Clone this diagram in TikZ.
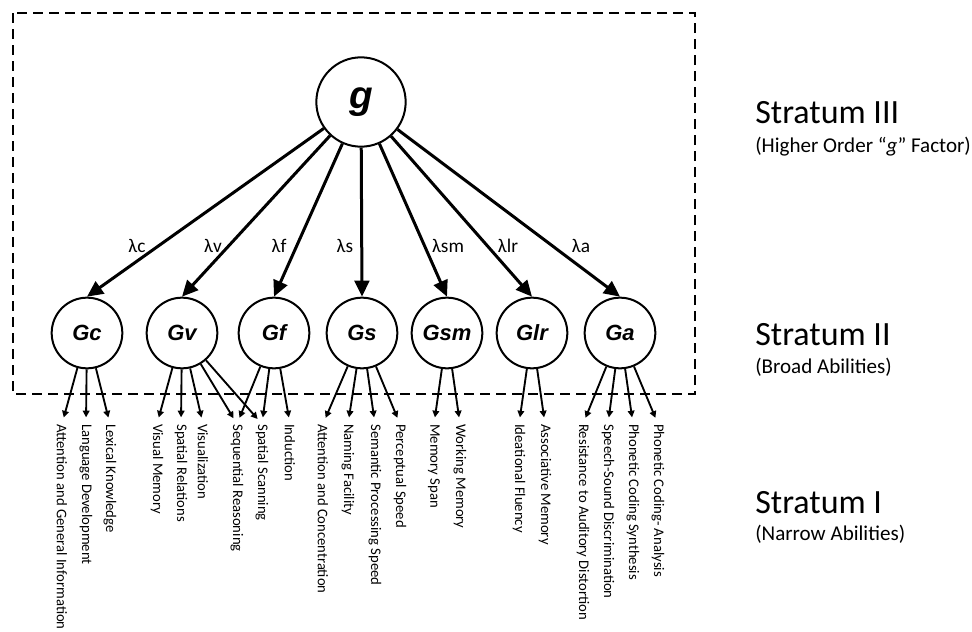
\documentclass[tikz,border=0pt]{standalone}
\usepackage{fontspec}
\setmainfont{Carlito}
\newfontfamily\arialfont{Liberation Sans}
\usetikzlibrary{arrows.meta,positioning}

\begin{document}
\begin{tikzpicture}[
    x=0.75pt, y=-0.75pt,
    factor/.style={circle, draw, line width=1.5pt, minimum size=53pt, inner sep=0pt, font=\arialfont\bfseries\itshape\fontsize{16.5}{18}\selectfont},
    gfactor/.style={factor, minimum size=67pt, font=\arialfont\bfseries\itshape\fontsize{29}{32}\selectfont},
    load/.style={-{Triangle[length=12pt, width=11pt]}, line width=2.25pt},
    narrow/.style={-{Triangle[length=5pt, width=5pt]}, line width=1.4pt, shorten >=5pt},
    lam/.style={inner sep=0pt, font=\fontsize{14.5}{16}\selectfont},
    ability/.style={rotate=-90, anchor=west, inner sep=0pt, font=\fontsize{11}{13}\selectfont},
    stratum/.style={anchor=base west, inner sep=0pt, font=\fontsize{25.5}{28}\selectfont},
    stratumsub/.style={anchor=base west, inner sep=0pt, font=\fontsize{15.8}{18}\selectfont}
]
\useasboundingbox (0,0) rectangle (972,632);

% Frame
\draw[line width=1.7pt, dash pattern=on 7.5pt off 4.5pt] (13,13) rectangle (695,394);

% Nodes
\node[gfactor] (g) at (361,102) {g};
\node[factor] (Gc) at (87,333) {Gc};
\node[factor] (Gv) at (182,333) {Gv};
\node[factor] (Gf) at (274,333) {Gf};
\node[factor] (Gs) at (362,333) {Gs};
\node[factor] (Gsm) at (447,333) {Gsm};
\node[factor] (Glr) at (532,333) {Glr};
\node[factor] (Ga) at (620,333) {Ga};

% Narrow abilities
\node[ability] (c1) at (62,424) {Attention and General Information};
\node[ability] (c2) at (86,424) {Language Development};
\node[ability] (c3) at (110,424) {Lexical Knowledge};
\node[ability] (v1) at (157,424) {Visual Memory};
\node[ability] (v2) at (181,424) {Spatial Relations};
\node[ability] (v3) at (203,424) {Visualization};
\node[ability] (f1) at (237,424) {Sequential Reasoning};
\node[ability] (f2) at (262,424) {Spatial Scanning};
\node[ability] (f3) at (290,424) {Induction};
\node[ability] (s1) at (323,424) {Attention and Concentration};
\node[ability] (s2) at (348,424) {Naming Facility};
\node[ability] (s3) at (375,424) {Semantic Processing Speed};
\node[ability] (s4) at (400,424) {Perceptual Speed};
\node[ability] (m1) at (434,424) {Memory Span};
\node[ability] (m2) at (460,424) {Working Memory};
\node[ability] (r1) at (519,424) {Ideational Fluency};
\node[ability] (r2) at (545,424) {Associative Memory};
\node[ability] (a1) at (583,424) {Resistance to Auditory Distortion};
\node[ability] (a2) at (608,424) {Speech-Sound Discrimination};
\node[ability] (a3) at (633,424) {Phonetic Coding Synthesis};
\node[ability] (a4) at (658,424) {Phonetic Coding- Analysis};

% Arrows
\draw[load] (g) -- (Gc.north);
\draw[load] (g) -- (Gv.north);
\draw[load] (g) -- (Gf.north);
\draw[load] (g) -- (Gs.north);
\draw[load] (g) -- (Gsm.north);
\draw[load] (g) -- (Glr.north);
\draw[load] (g) -- (Ga.north);

\draw[narrow] (Gc) -- (c1.west);
\draw[narrow] (Gc) -- (c2.west);
\draw[narrow] (Gc) -- (c3.west);
\draw[narrow] (Gv) -- (v1.west);
\draw[narrow] (Gv) -- (v2.west);
\draw[narrow] (Gv) -- (v3.west);
\draw[narrow] (Gv) -- (f1.west);
\draw[narrow] (Gv) -- (f2.west);
\draw[narrow] (Gf) -- (f1.west);
\draw[narrow] (Gf) -- (f2.west);
\draw[narrow] (Gf) -- (f3.west);
\draw[narrow] (Gs) -- (s1.west);
\draw[narrow] (Gs) -- (s2.west);
\draw[narrow] (Gs) -- (s3.west);
\draw[narrow] (Gs) -- (s4.west);
\draw[narrow] (Gsm) -- (m1.west);
\draw[narrow] (Gsm) -- (m2.west);
\draw[narrow] (Glr) -- (r1.west);
\draw[narrow] (Glr) -- (r2.west);
\draw[narrow] (Ga) -- (a1.west);
\draw[narrow] (Ga) -- (a2.west);
\draw[narrow] (Ga) -- (a3.west);
\draw[narrow] (Ga) -- (a4.west);

% Labels
\node[lam] (lc) at (137,246) {λc};
\node[lam] (lv) at (213,246) {λv};
\node[lam] (lf) at (279,246) {λf};
\node[lam] (ls) at (345,246) {λs};
\node[lam] (lsm) at (448,246) {λsm};
\node[lam] (llr) at (508,246) {λlr};
\node[lam] (la) at (581,246) {λa};

\node[stratum] (s3t) at (755,123) {Stratum III};
\node[stratumsub] (s3s) at (755,152) {(Higher Order “\textit{g}” Factor)};
\node[stratum] (s2t) at (755,345) {Stratum II};
\node[stratumsub] (s2s) at (755,373) {(Broad Abilities)};
\node[stratum] (s1t) at (755,513) {Stratum I};
\node[stratumsub] (s1s) at (755,540) {(Narrow Abilities)};
\end{tikzpicture}
\end{document}
